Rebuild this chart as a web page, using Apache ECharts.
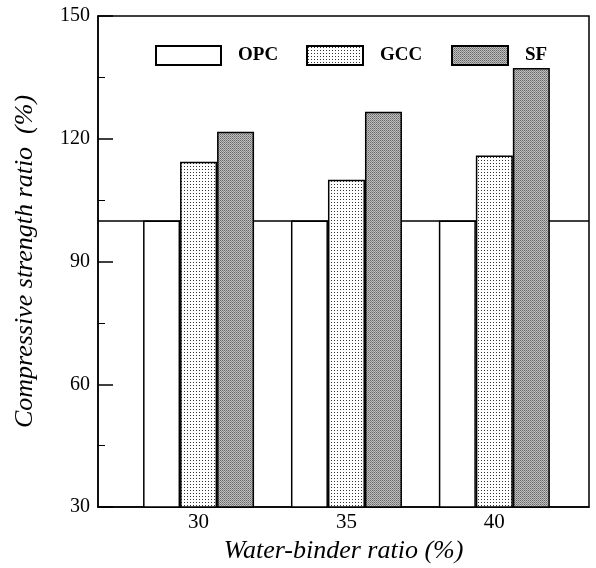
<!DOCTYPE html>
<html><head><meta charset="utf-8">
<script src="https://cdn.jsdelivr.net/npm/echarts@6/dist/echarts.min.js"></script>
<style>html,body{margin:0;padding:0;background:#fff}#c{width:596px;height:568px}</style>
</head><body><div id="c"></div>
<script>
const ratios = [30, 35, 40];
const seriesNames = ['OPC', 'GCC', 'SF'];
const opc = [100, 100, 100];
const gcc = [114.4, 110.0, 115.9];
const sf = [121.7, 126.6, 137.3];
const yTicks = [30, 60, 90, 120, 150];

function pattern(size, pixels, bg) {
  const c = document.createElement('canvas');
  c.width = size; c.height = size;
  const g = c.getContext('2d');
  g.fillStyle = bg; g.fillRect(0, 0, size, size);
  pixels.forEach(p => { g.fillStyle = p[2]; g.fillRect(p[0], p[1], 1, 1); });
  return c;
}
const gccPat = pattern(3, [[1, 1, '#333']], '#fff');
const sfPat = pattern(2, [[0, 0, '#666'], [1, 1, '#888'], [1, 0, '#bbb'], [0, 1, '#c4c4c4']], '#bbb');

const font = 'Liberation Serif';
const pair = arr => ratios.map((r, i) => [r, arr[i]]);
const border = { borderColor: '#000', borderWidth: 1.5 };

const chart = echarts.init(document.getElementById('c'));
const legendBase = (name, left, w) => ({
  data: [{ name: name, icon: 'rect' }], left: left, top: 40, itemWidth: w, itemHeight: 19, itemGap: 0,
  textStyle: { fontFamily: font, fontWeight: 'bold', fontSize: 19, color: '#000', padding: [0, 0, 0, 12] },
  selectedMode: false
});
chart.setOption({
  animation: false,
  legend: [legendBase(seriesNames[0], 150, 65), legendBase(seriesNames[1], 301, 56), legendBase(seriesNames[2], 446, 56)],
  grid: { left: 98, right: 7, top: 16, bottom: 61, show: true, borderColor: '#000', borderWidth: 1.5,
    containLabel: false, outerBoundsMode: 'none' },
  xAxis: {
    type: 'value', min: 26.6, max: 43.2,
    name: 'Water-binder ratio (%)', nameLocation: 'middle', nameGap: 30,
    nameTextStyle: { fontFamily: font, fontStyle: 'italic', fontSize: 26, color: '#000' },
    axisLine: { lineStyle: { color: '#000', width: 1.5 } },
    axisTick: { show: false },
    splitLine: { show: false },
    axisLabel: { customValues: ratios, fontFamily: font, fontSize: 21, color: '#000', margin: 5 }
  },
  yAxis: {
    type: 'value', min: 30, max: 150, interval: 30,
    name: 'Compressive strength ratio  (%)', nameLocation: 'middle', nameGap: 60,
    nameTextStyle: { fontFamily: font, fontStyle: 'italic', fontSize: 26, color: '#000' },
    axisLine: { lineStyle: { color: '#000', width: 1.5 } },
    axisTick: { inside: true, length: 15, lineStyle: { color: '#000', width: 1.5 } },
    minorTick: { show: true, splitNumber: 2, length: 7, lineStyle: { color: '#000', width: 1 } },
    splitLine: { show: false },
    axisLabel: { fontFamily: font, fontSize: 20, color: '#000', margin: 8,
      formatter: v => yTicks.includes(v) ? String(v) : '' }
  },
  series: [
    { name: seriesNames[0], type: 'bar', data: pair(opc), barWidth: 37, barGap: '0%', z: 1,
      itemStyle: Object.assign({ color: '#fff' }, border),
      markLine: { silent: true, symbol: 'none', label: { show: false }, z: 1,
        lineStyle: { color: '#000', width: 1.5, type: 'solid' }, data: [{ yAxis: 100 }] } },
    { name: seriesNames[1], type: 'bar', data: pair(gcc), barWidth: 37, barGap: '0%', z: 5,
      itemStyle: Object.assign({ color: { image: gccPat, repeat: 'repeat' } }, border) },
    { name: seriesNames[2], type: 'bar', data: pair(sf), barWidth: 37, barGap: '0%', z: 5,
      itemStyle: Object.assign({ color: { image: sfPat, repeat: 'repeat' } }, border) }
  ]
});
</script></body></html>
